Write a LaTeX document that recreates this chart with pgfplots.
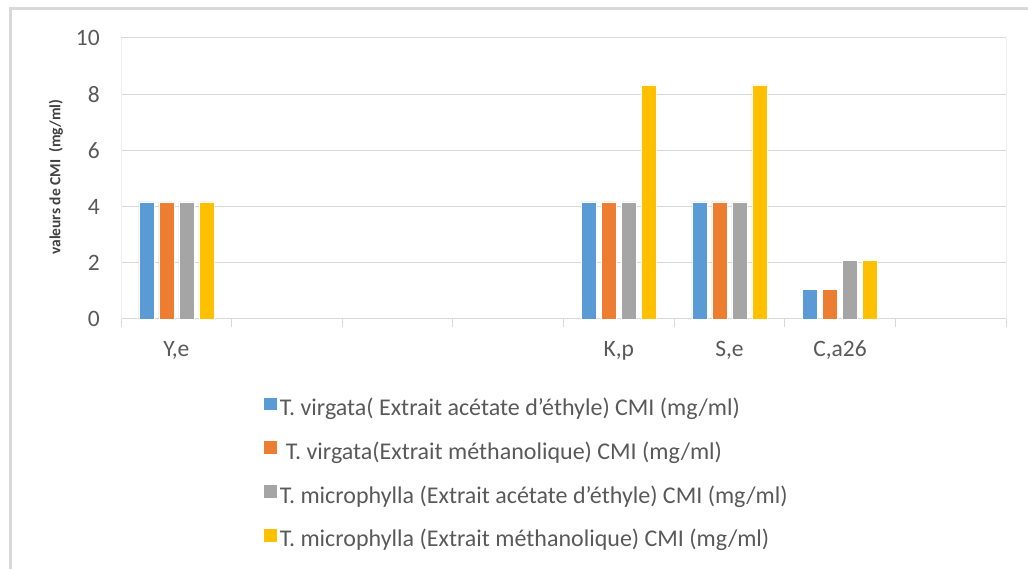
\documentclass[border=0pt]{standalone}
\usepackage{pgfplots}
\pgfplotsset{compat=1.18}
\usepackage{fontspec}
\setmainfont{Carlito}

\definecolor{cblue}{HTML}{5B9BD5}
\definecolor{corange}{HTML}{ED7D31}
\definecolor{cgray}{HTML}{A5A5A5}
\definecolor{cyellow}{HTML}{FFC000}
\definecolor{gridgray}{HTML}{D9D9D9}
\definecolor{framegray}{HTML}{EFEFEF}
\definecolor{textgray}{HTML}{595959}
\definecolor{titlegray}{HTML}{404040}

\pgfplotsset{
  cmibar/.style={
    ybar, bar width=0.1356, fill=#1, draw=white, line width=0.6pt,
    legend image code/.code={\fill[#1] (0pt,1pt) rectangle (11.5pt,12.5pt);}
  }
}

\begin{document}
\begin{tikzpicture}
\useasboundingbox (0,0) rectangle (1028pt,569pt);
% outer chart frame
\draw[color=gridgray, line width=2.5pt] (10.3pt,0pt) -- (10.3pt,560.3pt) -- (1028pt,560.3pt);
\begin{axis}[
  at={(121pt,250pt)}, anchor=south west,
  scale only axis, width=885pt, height=281pt,
  xmin=-0.5, xmax=7.5, ymin=0, ymax=10,
  ytick={0,2,4,6,8,10},
  xtick={0,4,5,6},
  xticklabels={{Y,e},{K,p},{S,e},{C,a26}},
  minor xtick={-0.5,0.5,...,7.5},
  major tick length=0pt, minor tick length=8pt,
  tick align=outside, xtick pos=bottom, ytick pos=left,
  minor tick style={draw=gridgray, line width=1pt},
  ymajorgrids, grid style={draw=gridgray, line width=1pt},
  separate axis lines,
  x axis line style={draw=gridgray, line width=1pt},
  y axis line style={draw=framegray, line width=1pt},
  /pgf/number format/assume math mode=true,
  tick label style={font=\fontsize{23.5}{28}\selectfont, text=textgray},
  yticklabel style={anchor=east, inner sep=0pt, xshift=-21pt},
  xticklabel style={anchor=base, inner sep=0pt, yshift=-38pt},
  ylabel={valeurs de CMI\ \ (mg/ml)},
  ylabel style={at={(axis description cs:-0.0734,0.505)}, anchor=center,
    font=\fontsize{15.5}{18}\selectfont\bfseries, text=titlegray},
  legend style={at={(0.1582,-0.272)}, anchor=north west, draw=none, fill=none,
    font=\fontsize{24}{28}\selectfont, text=textgray,
    row sep=20pt, column sep=3.5pt,
    nodes={inner sep=0pt, text height=16pt, text depth=6pt}},
  legend cell align=left,
]
\addplot[cmibar=cblue, bar shift=-0.2712] coordinates {(0,4.17) (4,4.17) (5,4.17) (6,1.04)};
\addlegendentry{T. virgata( Extrait acétate d’éthyle) CMI (mg/ml)}
\addplot[cmibar=corange, bar shift=-0.0904] coordinates {(0,4.17) (4,4.17) (5,4.17) (6,1.04)};
\addlegendentry{\hspace*{6pt}T. virgata(Extrait méthanolique) CMI (mg/ml)}
\addplot[cmibar=cgray, bar shift=0.0904] coordinates {(0,4.17) (4,4.17) (5,4.17) (6,2.08)};
\addlegendentry{T. microphylla (Extrait acétate d’éthyle) CMI (mg/ml)}
\addplot[cmibar=cyellow, bar shift=0.2712] coordinates {(0,4.17) (4,8.33) (5,8.33) (6,2.08)};
\addlegendentry{T. microphylla (Extrait méthanolique) CMI (mg/ml)}
\end{axis}
\end{tikzpicture}
\end{document}
